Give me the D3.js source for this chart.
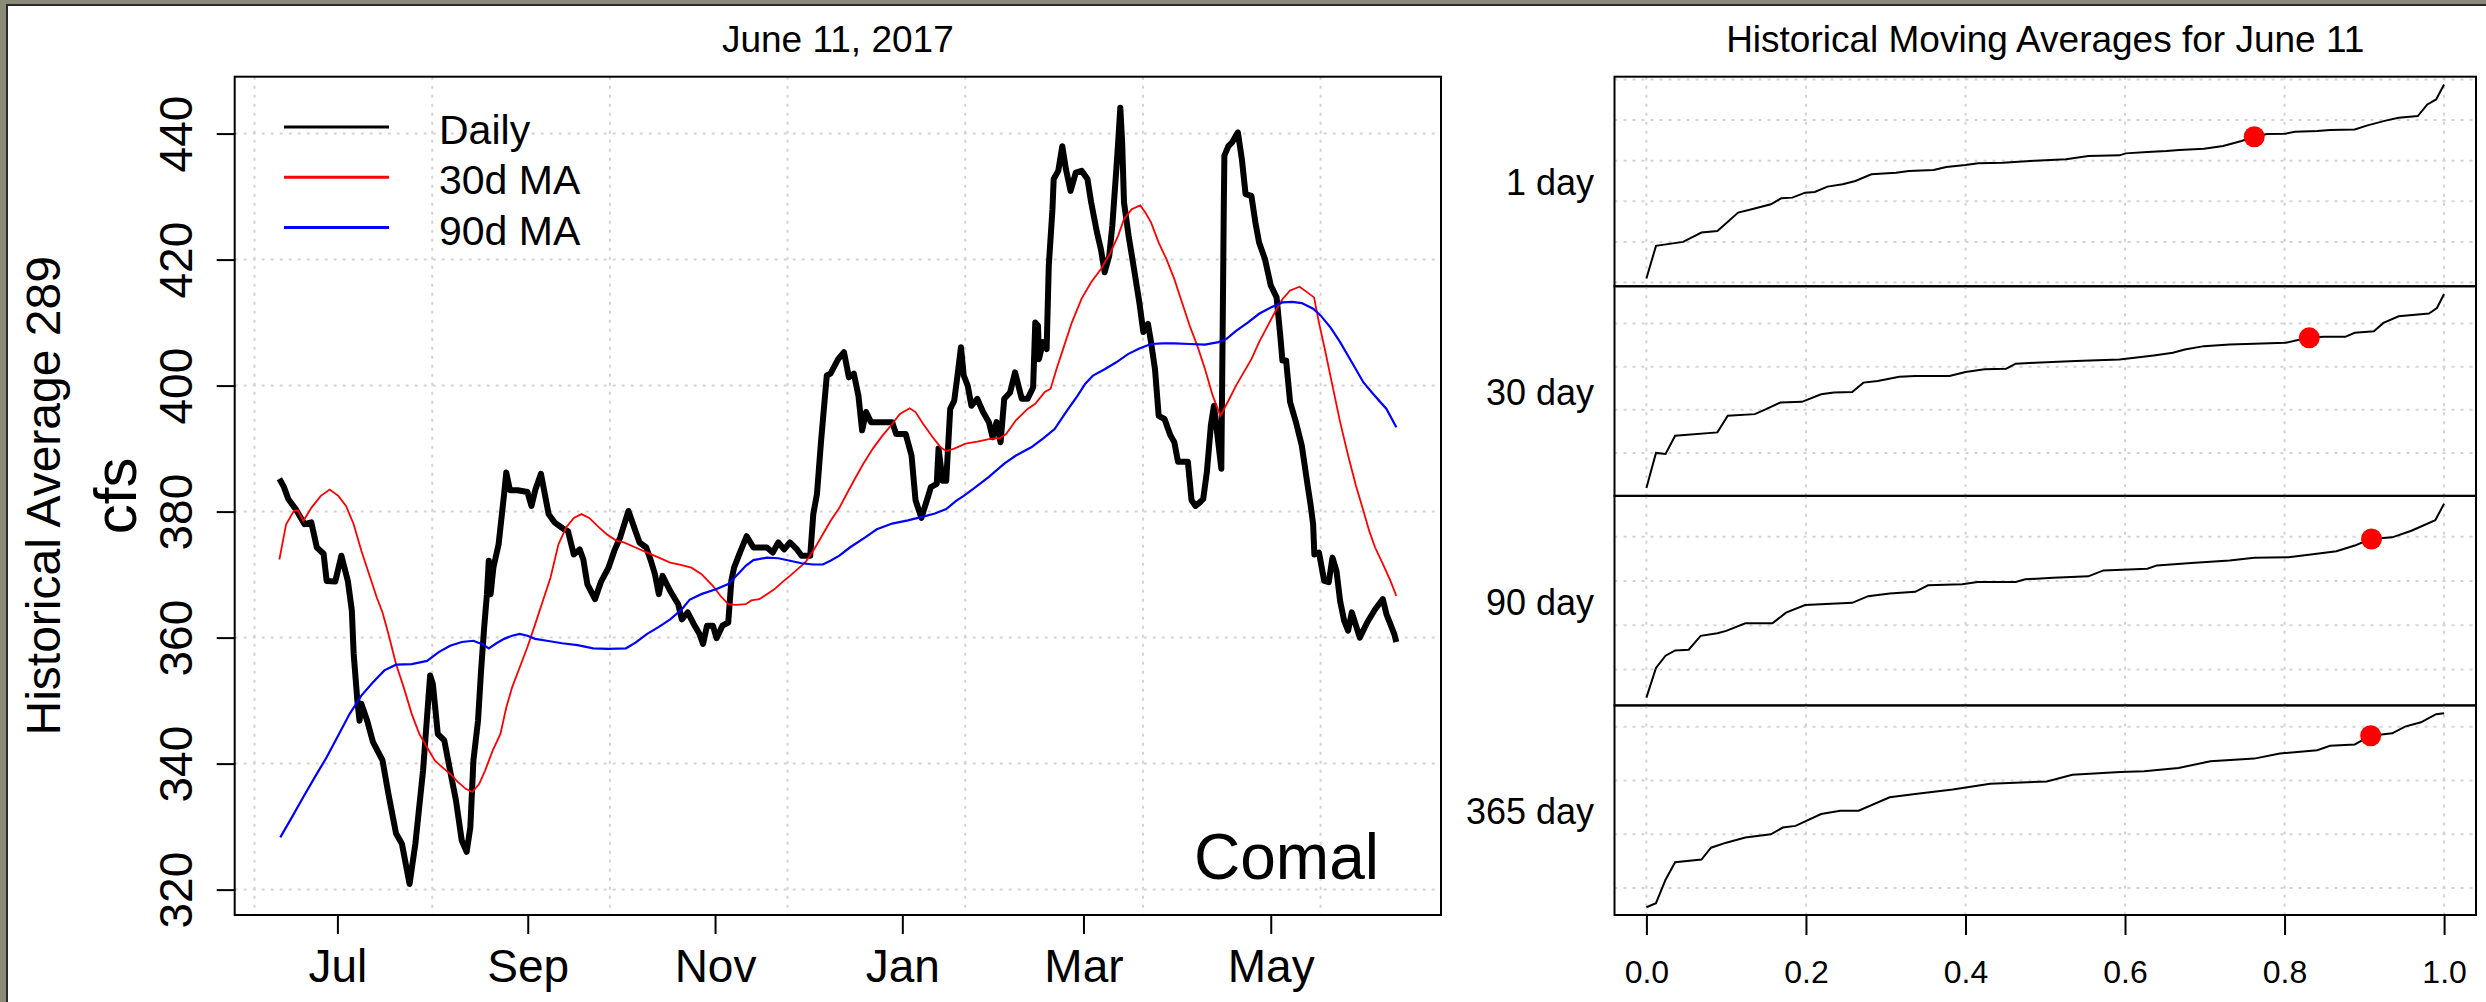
<!DOCTYPE html>
<html>
<head>
<meta charset="utf-8">
<script src="https://cdn.jsdelivr.net/npm/d3@7"></script>
<style>
  body { margin: 0; background: #fff; }
  svg { display: block; }
  text { font-family: "Liberation Sans", Arial, sans-serif; fill: #000; }
</style>
</head>
<body>
<div id="chart"></div>
<script>
(function () {

    // daily flow and moving averages at Comal, [days from 2016-07-01, cfs]
    var dailyFlow = [
        [-18.9, 385.2], [-17.5, 384.0], [-16, 382.0], [-13.6, 380.4], [-10.7, 378.0], [-8.5, 378.3],
        [-6.7, 374.3], [-4.5, 373.3], [-3.5, 369.0], [-0.7, 368.9], [1.3, 373.0], [3.4, 369.0],
        [4.7, 364.3], [5.3, 357.4], [6.5, 350.0], [7.2, 346.8], [7.8, 349.5], [9.7, 346.8],
        [11.6, 343.4], [14.7, 340.5], [16.6, 335.2], [19.1, 328.9], [21.0, 327.3], [23.5, 320.9],
        [25.4, 327.3], [27.9, 338.9], [30.2, 354.0], [31.1, 352.6], [32.7, 344.7], [34.8, 343.7],
        [36.7, 338.9], [38.6, 334.2], [40.5, 327.8], [42.1, 326.0], [43.3, 329.9], [44.3, 340.5],
        [45.8, 346.8], [46.8, 354.8], [47.8, 361.6], [48.7, 366.9], [49.3, 372.2], [49.9, 366.9],
        [50.8, 371.1], [52.5, 374.8], [54.3, 382.8], [55.0, 386.2], [56.2, 383.4], [58.7, 383.4],
        [61.9, 383.1], [63.2, 380.9], [64.5, 383.5], [66.3, 386.0], [68.8, 379.6], [70.7, 378.3],
        [73.8, 377.2], [75.1, 376.9], [77.0, 373.2], [78.9, 374.0], [80.1, 372.4], [81.4, 368.5],
        [83.9, 366.1], [85.8, 368.8], [88.3, 371.1], [90.2, 373.8], [92.1, 375.9], [94.8, 380.1],
        [96.5, 377.7], [98.4, 375.1], [100.6, 374.3], [102.1, 372.2], [103.4, 370.1], [104.7, 366.9],
        [105.9, 369.8], [108.4, 367.4], [111.0, 365.3], [112.2, 362.9], [114.1, 364.0], [116.0, 362.2],
        [117.9, 360.6], [119.1, 359.0], [120.4, 361.9], [122.3, 361.9], [123.5, 359.9], [125.4, 361.9],
        [127.3, 362.4], [128.3, 369.0], [129.2, 371.1], [131.1, 373.5], [133.3, 376.1], [135.5, 374.3],
        [139.9, 374.3], [141.8, 373.5], [143.6, 375.1], [145.5, 374.0], [147.4, 375.1], [149.7, 374.0],
        [151.2, 373.0], [154.0, 373.0], [155.0, 379.6], [156.2, 382.8], [157.5, 391.0], [159.4, 401.6],
        [160.6, 401.9], [163.1, 404.2], [165.0, 405.3], [166.6, 401.3], [168.2, 401.9], [169.7, 398.4],
        [170.9, 392.9], [172.2, 395.8], [173.8, 394.2], [180.7, 394.2], [182.0, 392.3], [185.1, 392.3],
        [187.0, 388.9], [188.3, 381.8], [190.2, 379.0], [192.0, 381.8], [193.3, 383.9], [195.2, 384.4],
        [195.8, 390.0], [197.1, 384.9], [198.3, 384.9], [199.6, 396.3], [200.9, 397.6], [202.1, 402.1],
        [203.1, 406.1], [204.0, 401.6], [205.3, 400.0], [206.5, 396.8], [208.4, 397.9], [210.3, 395.8],
        [212.2, 394.2], [213.4, 391.8], [214.7, 394.2], [216.0, 391.0], [217.2, 397.9], [219.1, 398.9],
        [220.7, 402.1], [222.9, 397.9], [224.8, 397.9], [226.6, 399.7], [227.3, 410.0], [228.2, 409.5],
        [228.5, 404.2], [229.8, 406.9], [231.0, 405.8], [231.7, 419.0], [232.9, 428.0], [233.3, 432.8],
        [234.8, 434.1], [236.1, 438.0], [237.3, 434.3], [238.8, 430.9], [240.5, 433.8], [242.4, 434.1],
        [244.3, 432.8], [245.5, 429.1], [247.4, 424.3], [248.7, 421.6], [249.9, 418.0], [251.4, 420.6],
        [252.4, 425.4], [253.7, 434.3], [254.3, 438.6], [255.0, 444.1], [255.6, 438.6], [256.2, 429.1],
        [257.7, 423.8], [259.3, 419.0], [261.2, 413.2], [262.5, 408.5], [264.0, 409.8], [265.0, 406.9],
        [266.3, 402.6], [267.5, 395.2], [269.4, 394.7], [271.3, 392.1], [272.6, 391.0], [273.8, 387.9],
        [277.0, 387.9], [278.2, 381.8], [279.5, 380.9], [281.0, 381.5], [282.0, 382.0], [283.2, 386.3],
        [284.5, 393.7], [285.5, 396.8], [286.4, 393.1], [287.9, 386.8], [288.3, 406.9], [288.7, 428.0],
        [288.9, 436.5], [290.2, 438.0], [291.4, 438.6], [293.3, 440.2], [294.6, 435.9], [295.8, 430.4],
        [297.7, 430.1], [299.0, 425.9], [300.2, 422.7], [302.1, 420.1], [304.0, 415.9], [305.9, 414.0],
        [307.1, 407.9], [307.8, 404.0], [309.0, 404.0], [310.3, 397.4], [312.2, 394.2], [314.1, 390.5],
        [316.0, 384.2], [317.0, 381.0], [317.8, 378.0], [318.2, 373.2], [319.7, 373.5], [321.4, 369.0],
        [322.9, 368.8], [324.1, 372.7], [325.4, 370.6], [326.6, 365.8], [327.9, 362.7], [329.2, 361.1],
        [330.4, 364.0], [333.0, 360.0], [335.4, 362.4], [338.0, 364.5], [340.5, 366.1], [341.7, 363.7],
        [343.0, 362.1], [344.2, 360.6], [344.9, 359.3]
    ];

    var ma30Flow = [
        [-18.9, 372.4], [-16.7, 378.0], [-14.2, 380.1], [-12.9, 380.2], [-11.1, 378.5], [-8.5, 380.6],
        [-5.4, 382.5], [-2.5, 383.5], [0.3, 382.5], [2.8, 380.9], [5.3, 378.0], [7.8, 373.8],
        [10.3, 370.1], [12.8, 366.4], [14.7, 364.0], [16.6, 360.6], [19.1, 355.8], [21.6, 352.1],
        [24.2, 347.9], [26.7, 344.7], [29.2, 342.6], [31.7, 340.5], [34.2, 339.4], [36.7, 338.4],
        [39.2, 337.1], [41.8, 336.0], [44.0, 335.5], [46.2, 336.8], [48.1, 338.9], [50.6, 342.1],
        [53.1, 344.7], [55.0, 348.9], [56.9, 352.1], [59.4, 355.3], [61.9, 358.5], [64.4, 362.1],
        [66.9, 365.8], [69.4, 369.5], [72.0, 374.8], [74.5, 377.5], [77.0, 379.0], [79.5, 379.6],
        [82.0, 379.0], [85.2, 377.5], [87.7, 376.4], [90.8, 375.4], [93.3, 375.1], [97.1, 374.3],
        [100.9, 373.5], [104.7, 372.7], [108.4, 371.9], [112.2, 371.5], [115.3, 371.1], [118.5, 370.1],
        [122.3, 368.2], [124.8, 366.6], [127.3, 365.3], [129.8, 365.2], [133.0, 365.3], [134.8, 365.9],
        [137.4, 366.1], [139.9, 366.9], [142.4, 367.7], [144.9, 368.8], [147.4, 369.8], [150.0, 370.9],
        [152.5, 372.0], [155.0, 373.8], [157.5, 375.9], [160.6, 378.5], [163.5, 380.6], [165.0, 382.0],
        [168.2, 384.9], [171.3, 387.6], [174.4, 390.0], [177.6, 392.1], [180.7, 393.9], [183.2, 395.5],
        [186.4, 396.4], [188.3, 395.8], [190.8, 393.9], [193.9, 391.8], [196.5, 390.2], [198.3, 389.6],
        [200.9, 390.0], [204.6, 390.8], [208.4, 391.1], [212.2, 391.5], [216.0, 391.7], [217.8, 392.3],
        [221.0, 394.5], [224.8, 396.3], [227.3, 397.1], [230.4, 399.0], [232.3, 399.5], [234.2, 402.6],
        [236.7, 406.3], [239.2, 410.0], [242.4, 413.8], [245.5, 416.4], [248.7, 418.5], [251.8, 421.1],
        [254.3, 423.8], [256.2, 426.4], [258.7, 428.0], [261.5, 428.6], [263.1, 427.5], [265.0, 425.9],
        [267.5, 422.7], [270.0, 420.1], [272.6, 416.9], [275.1, 413.2], [277.6, 409.5], [280.1, 406.3],
        [282.6, 402.6], [285.1, 398.4], [287.6, 395.2], [290.2, 397.6], [292.7, 400.0], [295.2, 402.1],
        [297.7, 404.2], [300.2, 406.9], [302.7, 409.2], [305.3, 411.6], [307.8, 413.7], [310.3, 415.1],
        [313.4, 415.7], [315.9, 414.8], [318.1, 414.0], [319.7, 410.0], [321.6, 405.8], [324.1, 400.0],
        [326.6, 394.2], [329.2, 388.9], [331.7, 384.2], [334.2, 380.1], [336.1, 376.9], [338.0, 374.3],
        [340.5, 371.7], [343.0, 369.0], [344.9, 366.6]
    ];

    var ma90Flow = [
        [-18.6, 328.3], [-14.8, 331.5], [-11.1, 334.7], [-7.3, 337.9], [-3.5, 341.0], [0.3, 344.5],
        [4.0, 347.9], [7.8, 350.8], [11.6, 352.9], [15.3, 354.8], [19.1, 355.7], [24.2, 355.8],
        [29.2, 356.3], [33.0, 357.7], [36.7, 358.7], [40.5, 359.3], [44.3, 359.5], [47.4, 358.9],
        [49.3, 358.3], [51.8, 359.1], [54.3, 359.8], [56.9, 360.3], [59.4, 360.6], [61.9, 360.3],
        [64.4, 359.8], [68.2, 359.5], [73.2, 359.1], [78.2, 358.8], [83.3, 358.3], [88.3, 358.2],
        [94.0, 358.3], [97.1, 359.2], [100.9, 360.6], [104.7, 361.7], [108.4, 362.9], [112.2, 364.5],
        [114.7, 366.0], [118.5, 366.9], [123.5, 367.7], [127.3, 368.5], [130.5, 370.1], [133.0, 371.4],
        [135.5, 372.3], [139.9, 372.7], [143.6, 372.6], [147.4, 372.2], [151.2, 371.8], [155.0, 371.6],
        [158.1, 371.6], [160.6, 372.2], [163.5, 373.0], [166.9, 374.3], [171.9, 375.9], [175.7, 377.2],
        [180.7, 378.1], [185.8, 378.6], [190.8, 379.2], [194.6, 379.7], [198.3, 380.4], [201.5, 381.7],
        [204.0, 382.5], [207.1, 383.6], [212.2, 385.5], [217.2, 387.6], [221.0, 388.9], [226.0, 390.2],
        [229.8, 391.6], [233.6, 393.1], [237.3, 395.8], [241.1, 398.4], [243.6, 400.3], [246.1, 401.6],
        [249.9, 402.6], [253.7, 403.7], [257.5, 405.0], [261.2, 405.9], [265.0, 406.6], [268.8, 406.7],
        [272.6, 406.7], [277.6, 406.6], [282.6, 406.5], [287.0, 406.9], [289.5, 407.4], [292.7, 408.7],
        [296.5, 410.0], [300.2, 411.4], [304.0, 412.4], [307.8, 413.2], [311.0, 413.3], [314.1, 413.1],
        [317.8, 412.2], [320.3, 411.1], [323.5, 409.2], [326.6, 406.9], [330.4, 403.7], [334.2, 400.5],
        [337.3, 398.7], [341.7, 396.3], [344.9, 393.4]
    ];

    var monthTicks = ["2016-07-01", "2016-09-01", "2016-11-01", "2017-01-01", "2017-03-01", "2017-05-01"];
    var monthLabels = ["Jul", "Sep", "Nov", "Jan", "Mar", "May"];
    var flowTicks = [320, 340, 360, 380, 400, 420, 440];
    var gridStepSec = 5e6; // R puts the grid on pretty() seconds

    // historical moving averages for June 11, sorted: [fraction of years, cfs]
    var hist1Day = [
        [0, 9.8], [0.012, 90.2], [0.046, 100], [0.069, 122.9], [0.089, 127.0], [0.115, 172.1],
        [0.132, 180.3], [0.156, 192.6], [0.169, 207.4], [0.183, 209.0], [0.199, 221.3], [0.211, 223.0],
        [0.227, 236.1], [0.246, 241.8], [0.262, 250.0], [0.282, 266.4], [0.313, 270.5], [0.329, 274.6],
        [0.360, 277.0], [0.376, 284.4], [0.400, 289.3], [0.416, 293.4], [0.447, 295.1], [0.487, 300.0],
        [0.526, 303.3], [0.554, 311.5], [0.593, 313.1], [0.601, 318.0], [0.628, 321.3], [0.652, 323.8],
        [0.668, 326.2], [0.699, 329.5], [0.723, 336.1], [0.746, 348.4], [0.762, 359.0], [0.778, 365.6],
        [0.801, 366.4], [0.813, 371.3], [0.841, 373.0], [0.857, 375.4], [0.888, 377.0], [0.904, 386.9],
        [0.928, 399.2], [0.943, 405.7], [0.967, 409.8], [0.979, 438.5], [0.990, 450.8], [1.0, 487.7]
    ];
    var hist30Day = [
        [0, 18.5], [0.012, 100.0], [0.024, 97.7], [0.036, 140.0], [0.089, 147.7], [0.102, 186.2],
        [0.136, 190.0], [0.148, 200.0], [0.168, 216.9], [0.195, 218.5], [0.219, 236.2], [0.235, 240.0],
        [0.258, 241.5], [0.272, 263.1], [0.290, 266.9], [0.317, 276.9], [0.337, 278.5], [0.380, 278.5],
        [0.400, 287.7], [0.424, 293.8], [0.451, 295.4], [0.463, 306.9], [0.487, 309.2], [0.538, 313.1],
        [0.593, 316.9], [0.612, 320.8], [0.636, 326.2], [0.660, 332.3], [0.675, 340.0], [0.699, 347.7],
        [0.731, 351.5], [0.762, 353.1], [0.801, 355.4], [0.829, 366.9], [0.849, 369.2], [0.876, 369.2],
        [0.888, 378.5], [0.912, 382.3], [0.924, 401.5], [0.943, 416.9], [0.981, 423.1], [0.991, 436.2],
        [1.0, 468.5]
    ];
    var hist90Day = [
        [0, 36.6], [0.012, 103.7], [0.024, 131.3], [0.036, 143.3], [0.053, 144.8], [0.068, 176.1],
        [0.089, 182.1], [0.100, 187.3], [0.124, 204.5], [0.158, 204.5], [0.175, 228.4], [0.199, 245.5],
        [0.258, 250.7], [0.278, 265.7], [0.305, 271.6], [0.337, 275.4], [0.353, 290.3], [0.396, 292.5],
        [0.415, 297.8], [0.463, 297.8], [0.475, 303.7], [0.510, 307.5], [0.554, 310.4], [0.573, 323.9],
        [0.628, 327.6], [0.640, 335.1], [0.683, 340.3], [0.731, 346.3], [0.762, 352.2], [0.805, 353.7],
        [0.833, 359.7], [0.865, 367.2], [0.888, 379.9], [0.908, 394.8], [0.935, 398.5], [0.959, 413.4],
        [0.989, 437.3], [1.0, 474.6]
    ];
    var hist365Day = [
        [0, 64.4], [0.012, 71.9], [0.024, 115.6], [0.036, 148.1], [0.069, 153.1], [0.081, 175.0],
        [0.100, 184.4], [0.124, 193.8], [0.156, 200.0], [0.171, 212.5], [0.187, 215.6], [0.219, 237.5],
        [0.243, 243.8], [0.266, 243.8], [0.305, 268.8], [0.337, 275.0], [0.384, 283.1], [0.431, 293.8],
        [0.502, 298.1], [0.534, 310.6], [0.594, 315.6], [0.624, 316.9], [0.667, 323.1], [0.707, 335.6],
        [0.762, 340.6], [0.794, 350.0], [0.841, 356.3], [0.857, 364.4], [0.888, 366.9], [0.908, 383.1],
        [0.935, 387.5], [0.951, 400.0], [0.971, 408.1], [0.990, 423.1], [1.0, 425.0]
    ];
    var panelLabels = ["1 day", "30 day", "90 day", "365 day"];
    var todayRank = [0.762, 0.831, 0.909, 0.908];
    var todayFlow = [359.0, 366.9, 394.8, 383.1];
    var rankTicks = [0, 0.2, 0.4, 0.6, 0.8, 1.0];

    var W = 2486, H = 1002;
    var gridColor = "#d3d3d3";

    var svg = d3.select("#chart")
        .append("svg")
        .attr("width", W)
        .attr("height", H);

    // window frame round the picture
    svg.append("rect").attr("width", W).attr("height", H).attr("fill", "#8a8a78");
    svg.append("rect").attr("x", 6).attr("y", 4).attr("width", W - 6).attr("height", H - 4).attr("fill", "#2b2b2b");
    svg.append("rect").attr("x", 8).attr("y", 6).attr("width", W - 8).attr("height", H - 6).attr("fill", "#fff");

    // R style axis range: data extent plus 4% each side
    function expand(ext) {
        var p = (ext[1] - ext[0]) * 0.04;
        return [ext[0] - p, ext[1] + p];
    }

    var day0 = Date.UTC(2016, 6, 1);
    function toDate(d) { return new Date(day0 + d * 864e5); }

    // ---------- left chart: daily flow ----------
    var L = { left: 234.7, right: 1441, top: 76.7, bottom: 915 };

    var x = d3.scaleUtc()
        .domain(expand(d3.extent(dailyFlow, function (d) { return d[0]; })).map(toDate))
        .range([L.left, L.right]);

    var y = d3.scaleLinear()
        .domain(expand(d3.extent(dailyFlow.concat(ma30Flow, ma90Flow), function (d) { return d[1]; })))
        .range([L.bottom, L.top]);

    var stepMs = gridStepSec * 1000;
    var gridTimes = d3.range(Math.ceil(x.domain()[0] / stepMs), Math.floor(x.domain()[1] / stepMs) + 1)
        .map(function (k) { return new Date(k * stepMs); });

    var left = svg.append("g");

    left.selectAll(".vgrid")
        .data(gridTimes)
        .enter()
        .append("line")
        .attr("x1", function (d) { return x(d); })
        .attr("x2", function (d) { return x(d); })
        .attr("y1", L.top)
        .attr("y2", L.bottom)
        .attr("stroke", gridColor)
        .attr("stroke-width", 2)
        .attr("stroke-dasharray", "3,6");

    left.selectAll(".hgrid")
        .data(flowTicks)
        .enter()
        .append("line")
        .attr("x1", L.left)
        .attr("x2", L.right)
        .attr("y1", function (d) { return y(d); })
        .attr("y2", function (d) { return y(d); })
        .attr("stroke", gridColor)
        .attr("stroke-width", 2)
        .attr("stroke-dasharray", "3,6");

    var line = d3.line()
        .x(function (d) { return x(toDate(d[0])); })
        .y(function (d) { return y(d[1]); });

    left.append("path")
        .datum(dailyFlow)
        .attr("d", line)
        .attr("fill", "none")
        .attr("stroke", "#000")
        .attr("stroke-width", 6)
        .attr("stroke-linejoin", "round");

    left.append("path")
        .datum(ma30Flow)
        .attr("d", line)
        .attr("fill", "none")
        .attr("stroke", "#ff0000")
        .attr("stroke-width", 1.8);

    left.append("path")
        .datum(ma90Flow)
        .attr("d", line)
        .attr("fill", "none")
        .attr("stroke", "#0000ff")
        .attr("stroke-width", 2.2);

    // box
    left.append("rect")
        .attr("x", L.left)
        .attr("y", L.top)
        .attr("width", L.right - L.left)
        .attr("height", L.bottom - L.top)
        .attr("fill", "none")
        .attr("stroke", "#000")
        .attr("stroke-width", 2);

    // x axis (months)
    var xAxis = left.append("g")
        .attr("transform", "translate(0," + L.bottom + ")")
        .call(d3.axisBottom(x)
            .tickValues(monthTicks.map(function (s) { return new Date(s + "T00:00:00Z"); }))
            .tickFormat(function (d, i) { return monthLabels[i]; })
            .tickSize(19));
    xAxis.select(".domain").remove();
    xAxis.selectAll("line").attr("stroke", "#000").attr("stroke-width", 2);
    xAxis.selectAll("text")
        .attr("y", 67)
        .attr("dy", null)
        .style("font-family", "Liberation Sans, Arial, sans-serif")
        .style("font-size", "46px")
        .attr("fill", "#000");

    // y axis (cfs), labels parallel to the axis
    var yAxis = left.append("g")
        .attr("transform", "translate(" + L.left + ",0)")
        .call(d3.axisLeft(y).tickValues(flowTicks).tickSize(18));
    yAxis.select(".domain").remove();
    yAxis.selectAll("line").attr("stroke", "#000").attr("stroke-width", 2);
    yAxis.selectAll("text")
        .attr("x", null)
        .attr("dy", null)
        .attr("text-anchor", "middle")
        .attr("transform", "translate(-43,0) rotate(-90)")
        .style("font-family", "Liberation Sans, Arial, sans-serif")
        .style("font-size", "46px")
        .attr("fill", "#000");

    // axis titles
    svg.append("text")
        .attr("transform", "translate(60," + ((L.top + L.bottom) / 2) + ") rotate(-90)")
        .attr("text-anchor", "middle")
        .style("font-size", "48px")
        .text("Historical Average 289");

    svg.append("text")
        .attr("transform", "translate(136," + ((L.top + L.bottom) / 2) + ") rotate(-90)")
        .attr("text-anchor", "middle")
        .style("font-size", "60px")
        .text("cfs");

    svg.append("text")
        .attr("x", (L.left + L.right) / 2)
        .attr("y", 52)
        .attr("text-anchor", "middle")
        .style("font-size", "37px")
        .text("June 11, 2017");

    // legend
    var legendItems = [
        { label: "Daily", color: "#000" },
        { label: "30d MA", color: "#ff0000" },
        { label: "90d MA", color: "#0000ff" }
    ];
    var legend = left.selectAll(".legend")
        .data(legendItems)
        .enter()
        .append("g")
        .attr("transform", function (d, i) { return "translate(0," + (127 + i * 50.3) + ")"; });
    legend.append("line")
        .attr("x1", 284)
        .attr("x2", 389)
        .attr("stroke", function (d) { return d.color; })
        .attr("stroke-width", 3);
    legend.append("text")
        .attr("x", 439)
        .attr("y", 17)
        .style("font-size", "41px")
        .text(function (d) { return d.label; });

    left.append("text")
        .attr("x", 1194)
        .attr("y", 879)
        .style("font-size", "64px")
        .text("Comal");

    // ---------- right chart: historical moving averages ----------
    var R = { left: 1614.5, right: 2476, top: 76.7, bottom: 915 };
    var panelH = (R.bottom - R.top) / 4;

    var rx = d3.scaleLinear()
        .domain(expand([0, 1]))
        .range([R.left, R.right]);

    var rankLine = d3.line()
        .x(function (d) { return rx(d[0]); });

    [hist1Day, hist30Day, hist90Day, hist365Day].forEach(function (series, i) {
        var top = R.top + i * panelH;
        var bottom = top + panelH;

        var ry = d3.scaleLinear()
            .domain(expand(d3.extent(series, function (d) { return d[1]; })))
            .range([bottom, top]);

        var g = svg.append("g");

        g.selectAll(".vgrid")
            .data(rankTicks)
            .enter()
            .append("line")
            .attr("x1", function (d) { return rx(d); })
            .attr("x2", function (d) { return rx(d); })
            .attr("y1", top)
            .attr("y2", bottom)
            .attr("stroke", gridColor)
            .attr("stroke-width", 2)
            .attr("stroke-dasharray", "3,6");

        g.selectAll(".hgrid")
            .data(ry.ticks(5))
            .enter()
            .append("line")
            .attr("x1", R.left)
            .attr("x2", R.right)
            .attr("y1", function (d) { return ry(d); })
            .attr("y2", function (d) { return ry(d); })
            .attr("stroke", gridColor)
            .attr("stroke-width", 2)
            .attr("stroke-dasharray", "3,6");

        g.append("path")
            .datum(series)
            .attr("d", rankLine.y(function (d) { return ry(d[1]); }))
            .attr("fill", "none")
            .attr("stroke", "#000")
            .attr("stroke-width", 2);

        g.append("circle")
            .attr("cx", rx(todayRank[i]))
            .attr("cy", ry(todayFlow[i]))
            .attr("r", 10.5)
            .attr("fill", "#ff0000");

        g.append("rect")
            .attr("x", R.left)
            .attr("y", top)
            .attr("width", R.right - R.left)
            .attr("height", panelH)
            .attr("fill", "none")
            .attr("stroke", "#000")
            .attr("stroke-width", 2);

        g.append("text")
            .attr("x", 1594)
            .attr("y", (top + bottom) / 2 + 14)
            .attr("text-anchor", "end")
            .style("font-size", "36px")
            .text(panelLabels[i]);
    });

    var rAxis = svg.append("g")
        .attr("transform", "translate(0," + R.bottom + ")")
        .call(d3.axisBottom(rx).tickValues(rankTicks).tickFormat(d3.format(".1f")).tickSize(20));
    rAxis.select(".domain").remove();
    rAxis.selectAll("line").attr("stroke", "#000").attr("stroke-width", 2);
    rAxis.selectAll("text")
        .attr("y", 68)
        .attr("dy", null)
        .style("font-family", "Liberation Sans, Arial, sans-serif")
        .style("font-size", "32px")
        .attr("fill", "#000");

    svg.append("text")
        .attr("x", (R.left + R.right) / 2)
        .attr("y", 52)
        .attr("text-anchor", "middle")
        .style("font-size", "37px")
        .text("Historical Moving Averages for June 11");

})();
</script>
</body>
</html>
